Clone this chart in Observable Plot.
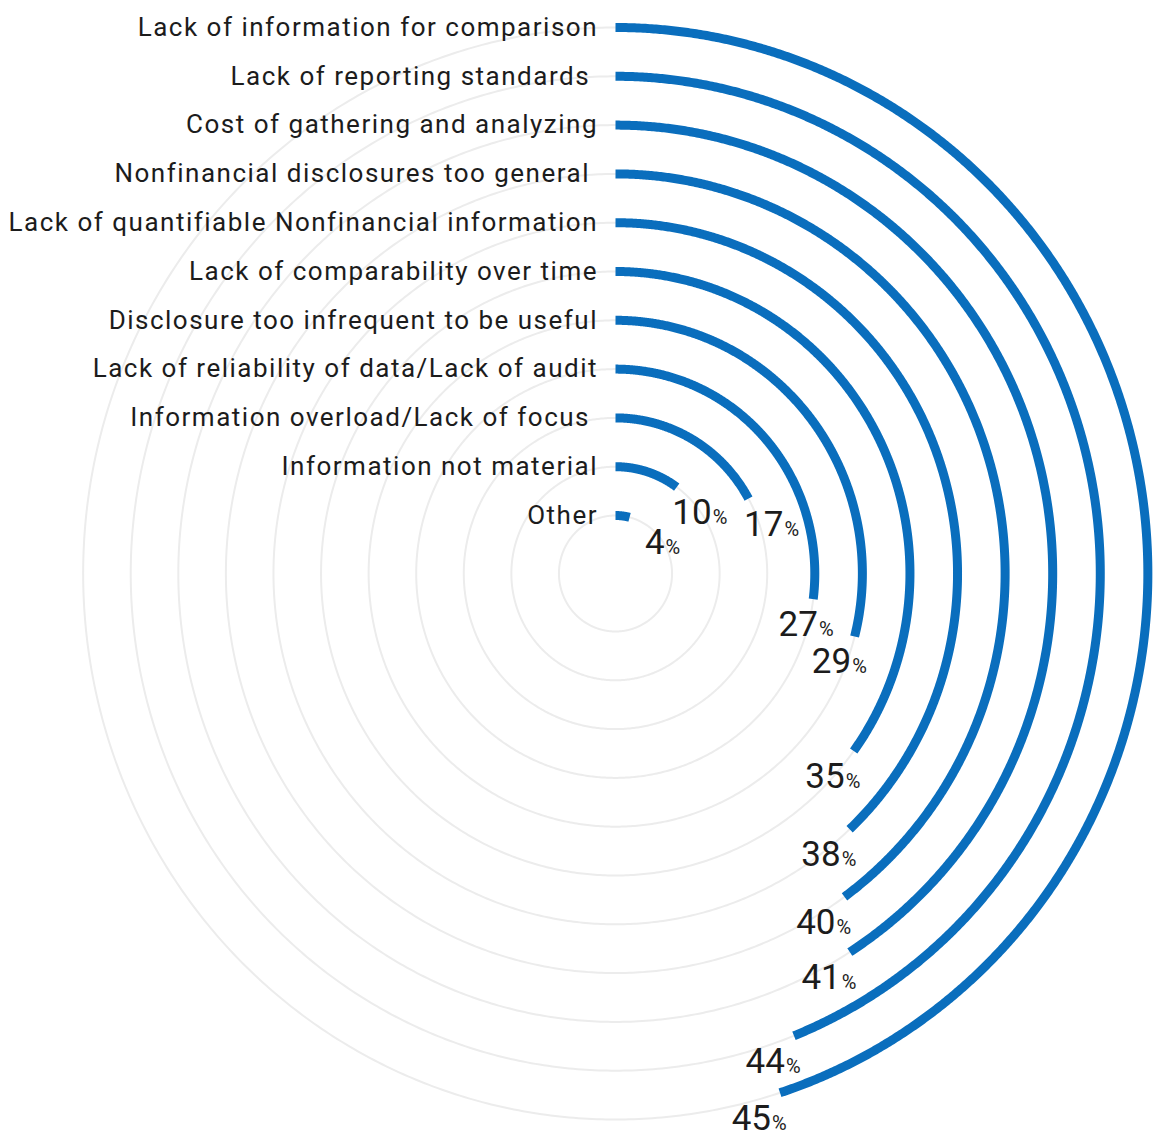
<!DOCTYPE html>
<html>
<head>
<meta charset="utf-8">
<script src="https://cdn.jsdelivr.net/npm/d3@7"></script>
<script src="https://cdn.jsdelivr.net/npm/@observablehq/plot@0.6"></script>
<style>
  body { margin: 0; background: #fff; }
  #chart { width: 1160px; }
</style>
</head>
<body>
<div id="chart"></div>
<script>
// Reasons given, outermost ring first
const categories = [
  "Lack of information for comparison",
  "Lack of reporting standards\u00a0",
  "Cost of gathering and analyzing",
  "Nonfinancial disclosures too general\u00a0",
  "Lack of quantifiable Nonfinancial information",
  "Lack of comparability over time",
  "Disclosure too infrequent to be useful",
  "Lack of reliability of data/Lack of audit",
  "Information overload/Lack of focus\u00a0",
  "Information not material",
  "Other"
];
// Share of respondents, %
const values = [45, 44, 41, 40, 38, 35, 29, 27, 17, 10, 4];

const W = 1160, H = 1137;
const cx = 615, cy = 573;      // centre of the rings, px
const squeeze = 0.975;         // horizontal / vertical scale ratio
const blue = "#0a6ebd";
const ink = "#1c1c1c";

// ring radius per category (innermost = last category)
const ring = d3.scalePoint().domain(categories.slice().reverse()).range([58, 546]);

const rows = categories.map((c, i) => ({
  category: c,
  value: values[i],
  r: ring(c),
  end: values[i] / 100 * 2 * Math.PI
}));

// sampled points along each arc, clockwise from 12 o'clock
const arcPts = rows.flatMap(d => {
  const n = Math.max(2, Math.ceil(d.end / 0.004));
  return d3.range(n + 1).map(k => {
    const t = d.end * k / n;
    return {category: d.category, x: d.r * Math.sin(t), y: d.r * Math.cos(t)};
  });
});

// faint full guide circles on every ring
const circlePts = rows.flatMap(d =>
  d3.range(721).map(k => {
    const t = 2 * Math.PI * k / 720;
    return {category: d.category, x: d.r * Math.sin(t), y: d.r * Math.cos(t)};
  })
);

// value labels sit just below the end of each arc, nudged along its direction
const labels = rows.map(d => {
  const ex = d.r * Math.sin(d.end), ey = d.r * Math.cos(d.end);
  const side = Math.max(-1, Math.min(1, 3 * Math.cos(d.end)));
  return {...d, x: ex + 22 * side / squeeze, y: ey - 26};
});

const chart = Plot.plot({
  width: W,
  height: H,
  margin: 0,
  style: {fontFamily: "Roboto, 'Noto Sans', sans-serif", background: "#fff"},
  x: {domain: [-cx / squeeze, (W - cx) / squeeze], axis: null},
  y: {domain: [-(H - cy), cy], axis: null},
  marks: [
    Plot.line(circlePts, {x: "x", y: "y", z: "category", stroke: "#ececec", strokeWidth: 2}),
    Plot.line(arcPts, {x: "x", y: "y", z: "category", stroke: blue, strokeWidth: 9, strokeLinecap: "butt", curve: "linear"}),
    Plot.text(rows, {
      x: 0, y: "r", text: "category", textAnchor: "end", dx: -17.5,
      fontSize: 26, fill: ink, lineAnchor: "middle"
    }),
    Plot.text(labels, {
      x: "x", y: "y", text: d => String(d.value), textAnchor: "end", lineAnchor: "bottom",
      dx: 13, dy: 11, fontSize: 35, fill: ink
    }),
    Plot.text(labels, {
      x: "x", y: "y", text: () => "%", textAnchor: "start", lineAnchor: "bottom",
      dx: 14, dy: 11, fontSize: 20, fill: ink
    })
  ]
});

// open up the category names a little
d3.select(chart).selectAll("g[aria-label='text']").filter((d, i) => i === 0)
  .attr("letter-spacing", "1.5px");

document.getElementById("chart").append(chart);
</script>
</body>
</html>
